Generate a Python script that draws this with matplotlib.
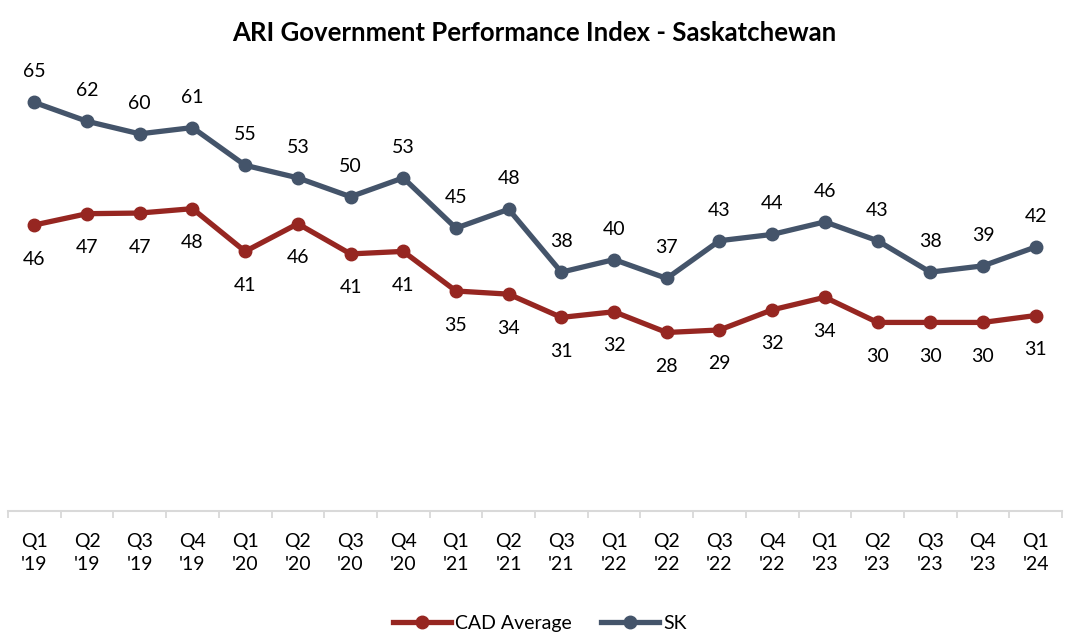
import matplotlib.pyplot as plt
from matplotlib.ticker import FixedLocator

quarters = ["Q1\n'19", "Q2\n'19", "Q3\n'19", "Q4\n'19", "Q1\n'20", "Q2\n'20", "Q3\n'20", "Q4\n'20",
            "Q1\n'21", "Q2\n'21", "Q3\n'21", "Q1\n'22", "Q2\n'22", "Q3\n'22", "Q4\n'22",
            "Q1\n'23", "Q2\n'23", "Q3\n'23", "Q4\n'23", "Q1\n'24"]

cad_avg = [45.5, 47.3, 47.4, 48.1, 41.3, 45.7, 40.9, 41.3, 35.0, 34.5,
           30.8, 31.7, 28.4, 28.8, 32.0, 34.0, 30.0, 30.0, 30.0, 31.1]
sk = [65, 62, 60, 61, 55, 53, 50, 53, 45, 48,
      38, 40, 37, 43, 44, 46, 43, 38, 39, 42]

red = "#962621"
blue = "#44546A"

plt.rcParams['font.family'] = ['Lato', 'DejaVu Sans']

fig = plt.figure(figsize=(10.69, 6.35), dpi=100)
ax = fig.add_axes([8 / 1069, 1 - 511 / 635, 1054 / 1069, 440 / 635])

x = list(range(len(quarters)))
ax.plot(x, cad_avg, color=red, linewidth=3.8, marker='o', markersize=9, label='CAD Average')
ax.plot(x, sk, color=blue, linewidth=3.8, marker='o', markersize=9, label='SK')

# data labels: SK above, CAD below
for i in x:
    ax.annotate(f"{sk[i]:.0f}", (i, sk[i]), xytext=(0, 22), textcoords='offset points',
                ha='center', va='center', fontsize=14, color='black')
    ax.annotate(f"{cad_avg[i]:.0f}", (i, cad_avg[i]), xytext=(0, -24.5), textcoords='offset points',
                ha='center', va='center', fontsize=14, color='black')

ax.set_xlim(-0.5, len(quarters) - 0.5)
ax.set_ylim(0, 70)
ax.set_yticks([])
ax.set_xticks(x)
ax.set_xticklabels(quarters, fontsize=14, linespacing=1.4)
ax.xaxis.set_minor_locator(FixedLocator([i - 0.5 for i in range(len(quarters) + 1)]))
ax.tick_params(axis='x', which='major', length=0, pad=16)
ax.tick_params(axis='x', which='minor', length=5, color='#D9D9D9', width=1.3)

for s in ['top', 'right', 'left']:
    ax.spines[s].set_visible(False)
ax.spines['bottom'].set_color('#D9D9D9')
ax.spines['bottom'].set_linewidth(1.5)

fig.suptitle('ARI Government Performance Index - Saskatchewan', fontsize=18.5, fontweight='bold', y=0.967)

fig.legend(loc='center', bbox_to_anchor=(0.505, 0.018), ncol=2, frameon=False, fontsize=14,
           handlelength=3, handletextpad=0.2, columnspacing=1.5)

plt.savefig('out.png', dpi=100)
